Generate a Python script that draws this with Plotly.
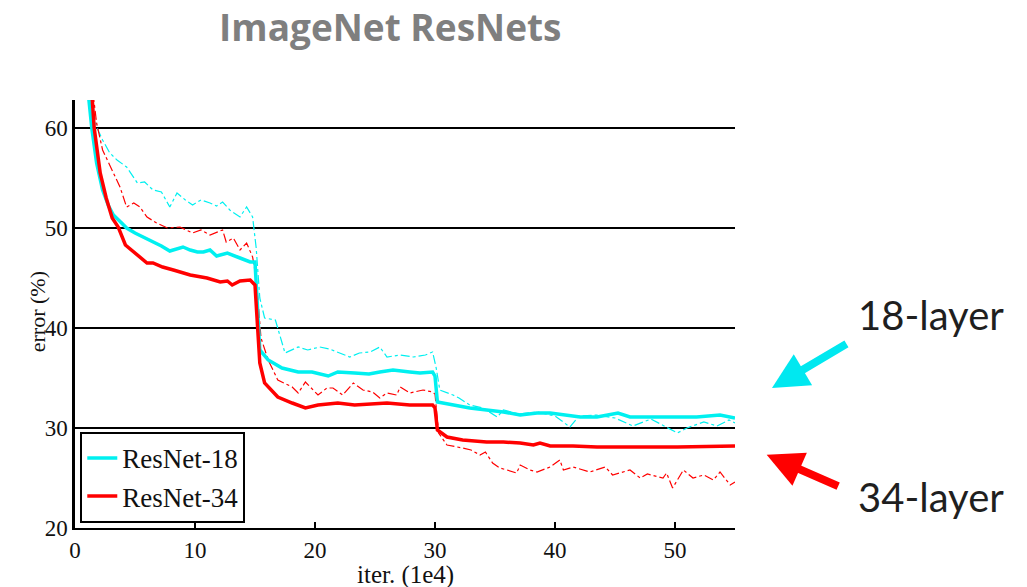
import plotly.graph_objects as go

# ---- data ----
r18_val_x = [1.1, 1.4, 1.8, 2.3, 2.8, 3.2, 3.8, 4.3, 5.0, 5.7, 6.5, 7.2, 7.9, 8.5, 9.0, 9.6, 10.2, 10.7, 11.25, 11.8, 12.7, 13.75, 14.6, 15.0,
             15.1, 15.4, 16.1, 17.25, 18.6, 19.75, 21.1, 21.9, 23.3, 24.5, 25.4, 26.5, 27.9, 28.75, 29.8, 30.0,
             30.2, 31.5, 32.9, 34.3, 35.7, 37.1, 38.5, 39.6, 40.7, 42.1, 43.5, 45.25, 46.25, 49.0, 51.8, 53.75, 55.0]
r18_val_y = [63.5, 60.0, 56.5, 53.8, 52.2, 51.3, 50.6, 50.0, 49.5, 49.1, 48.6, 48.2, 47.7, 47.9, 48.1, 47.8, 47.6, 47.6, 47.8, 47.2, 47.5, 47.0, 46.6, 46.6,
             44.0, 37.8, 36.8, 36.0, 35.6, 35.6, 35.2, 35.6, 35.5, 35.4, 35.6, 35.8, 35.6, 35.5, 35.6, 35.2,
             32.6, 32.3, 32.0, 31.8, 31.6, 31.3, 31.5, 31.5, 31.3, 31.1, 31.1, 31.5, 31.1, 31.1, 31.1, 31.3, 31.0]

r34_val_x = [1.4, 1.6, 2.1, 2.6, 3.1, 3.6, 4.2, 5.0, 6.0, 6.5, 7.3, 8.2, 9.6, 11.0, 12.1, 12.7, 13.1, 13.75, 14.6, 15.0,
             15.2, 15.4, 15.8, 16.9, 18.1, 19.2, 20.25, 21.9, 23.3, 24.5, 26.0, 27.9, 29.8, 30.0,
             30.2, 31.0, 32.3, 34.3, 35.7, 37.1, 38.2, 38.75, 39.6, 41.5, 43.5, 46.25, 50.2, 55.0]
r34_val_y = [63.5, 60.0, 55.5, 53.0, 51.0, 50.1, 48.3, 47.5, 46.5, 46.5, 46.1, 45.8, 45.3, 45.0, 44.6, 44.7, 44.3, 44.7, 44.8, 44.3,
             41.0, 36.5, 34.5, 33.1, 32.5, 32.0, 32.3, 32.5, 32.3, 32.4, 32.5, 32.3, 32.3, 32.0,
             29.8, 29.1, 28.8, 28.6, 28.6, 28.5, 28.3, 28.5, 28.2, 28.2, 28.1, 28.1, 28.1, 28.2]

r18_train_x = [1.2, 1.8, 2.3, 2.9, 3.5, 4.3, 5.2, 5.8, 6.5, 7.2, 7.9, 8.5, 9.2, 9.8, 10.5, 11.25, 11.8, 12.3, 12.9, 13.75, 14.3, 14.8,
               15.1, 15.4, 15.8, 16.7, 17.5, 18.6, 19.4, 20.4, 21.2, 22.1, 22.9, 23.7, 24.6, 25.4, 26.0, 27.1, 28.2, 29.2, 29.8,
               30.1, 30.4, 31.5, 32.0, 32.9, 34.0, 35.2, 35.7, 37.0, 38.5, 40.0, 41.25, 42.0, 43.5, 45.0, 46.5, 48.0, 49.0, 50.2,
               51.0, 52.4, 53.5, 54.5, 55.0]
r18_train_y = [63.5, 60.1, 58.8, 57.5, 56.8, 56.1, 54.5, 54.6, 53.8, 53.6, 52.1, 53.5, 52.8, 52.3, 52.8, 52.5, 52.2, 52.6, 51.8, 51.1, 52.1, 51.1,
               48.0, 43.0, 41.0, 40.8, 37.5, 38.1, 37.8, 38.1, 37.9, 37.5, 37.1, 37.5, 37.6, 38.1, 37.1, 37.3, 37.1, 37.3, 37.6,
               36.0, 33.8, 33.3, 33.0, 32.3, 32.0, 31.1, 31.8, 31.4, 31.6, 31.2, 30.1, 31.2, 31.3, 31.0, 30.2, 30.9, 30.3, 29.5,
               30.0, 30.6, 30.2, 30.8, 30.5]

r34_train_x = [1.5, 1.8, 2.3, 2.8, 3.2, 3.75, 4.3, 4.9, 5.4, 6.0, 6.8, 7.7, 8.75, 9.8, 10.5, 11.25, 12.3, 12.6, 13.2, 13.75, 14.3, 14.8,
               15.1, 15.5, 16.1, 16.9, 18.1, 18.6, 19.2, 19.8, 20.25, 21.0, 21.5, 22.3, 23.2, 24.0, 24.8, 25.4, 26.0, 26.8, 27.1,
               27.9, 29.0, 29.8, 30.0, 30.3, 31.0, 32.3, 33.0, 33.75, 34.2, 34.8, 35.4, 36.0, 36.8, 37.1, 37.9, 38.5, 39.6, 40.4,
               40.7, 41.5, 42.9, 44.2, 44.8, 46.25, 47.1, 47.7, 49.0, 49.3, 49.8, 50.7, 51.5, 52.4, 53.2, 53.75, 54.6, 55.0]
r34_train_y = [63.5, 60.5, 57.8, 56.5, 55.5, 54.1, 52.1, 52.5, 52.1, 51.1, 50.5, 50.0, 50.1, 49.5, 49.8, 49.3, 49.8, 48.6, 49.0, 47.8, 48.5, 47.1,
               45.0, 39.0, 36.8, 34.8, 34.1, 33.5, 34.6, 33.8, 33.3, 34.0, 34.0, 33.3, 34.5, 33.8, 33.6, 33.0, 33.5, 33.3, 34.1,
               33.5, 33.8, 33.6, 33.4, 29.5, 28.3, 28.0, 27.8, 27.3, 27.6, 26.5, 26.0, 25.8, 25.5, 26.3, 25.8, 25.6, 26.1, 26.8,
               25.8, 26.1, 25.6, 26.1, 25.3, 25.8, 25.0, 25.4, 25.0, 25.5, 24.0, 25.8, 25.0, 25.3, 24.8, 25.6, 24.3, 24.6]

x_ticks = [0, 10, 20, 30, 40, 50]
y_ticks = [20, 30, 40, 50, 60]
series_names = ["ResNet-18", "ResNet-34"]
CYAN = "#00F0F0"
RED = "#FF0000"

fig = go.Figure()
fig.add_trace(go.Scatter(x=r18_train_x, y=r18_train_y, mode="lines", showlegend=False,
                         line=dict(color=CYAN, width=1.2, dash="dashdot")))
fig.add_trace(go.Scatter(x=r34_train_x, y=r34_train_y, mode="lines", showlegend=False,
                         line=dict(color=RED, width=1.2, dash="dashdot")))
fig.add_trace(go.Scatter(x=r18_val_x, y=r18_val_y, mode="lines", name=series_names[0],
                         line=dict(color=CYAN, width=3.5)))
fig.add_trace(go.Scatter(x=r34_val_x, y=r34_val_y, mode="lines", name=series_names[1],
                         line=dict(color=RED, width=3.5)))

serif = "Liberation Serif"
fig.update_layout(
    width=1027, height=587,
    margin=dict(l=75, r=292, t=100, b=59, autoexpand=False),
    paper_bgcolor="white", plot_bgcolor="white",
    title=dict(text="<b>ImageNet ResNets</b>", x=0.38, xanchor="center", xref="container",
               y=0.952, yanchor="middle", yref="container",
               font=dict(family="Open Sans", size=37, color="#7f7f7f")),
    xaxis=dict(range=[0, 55], tickvals=x_ticks, showgrid=False, zeroline=False,
               showline=True, linecolor="black", linewidth=2, automargin=False,
               ticks="inside", ticklen=6, tickwidth=1.5, tickcolor="black",
               tickfont=dict(family=serif, size=23, color="#111")),
    yaxis=dict(range=[20, 62.8], tickvals=y_ticks, showgrid=True, gridcolor="black", gridwidth=2,
               zeroline=False, showline=True, linecolor="black", linewidth=2.5, automargin=False,
               ticks="inside", ticklen=6, tickwidth=1.5, tickcolor="black",
               tickfont=dict(family=serif, size=23, color="#111")),
    legend=dict(x=0.008, y=0.012, xanchor="left", yanchor="bottom",
                bgcolor="white", bordercolor="black", borderwidth=2,
                font=dict(family=serif, size=27, color="#111"), tracegroupgap=0),
    showlegend=True,
)

# axis titles as text annotations (placed in paper coordinates)
fig.add_annotation(x=0.5, y=-0.11, xref="paper", yref="paper", text="iter. (1e4)", showarrow=False,
                   xanchor="center", yanchor="middle", font=dict(family=serif, size=25, color="#111"))
fig.add_annotation(x=-0.057, y=0.505, xref="paper", yref="paper", text="error (%)", showarrow=False,
                   textangle=-90, xanchor="center", yanchor="middle",
                   font=dict(family=serif, size=22, color="#111"))

# arrows and side labels
fig.add_annotation(x=1.056, y=0.327, xref="paper", yref="paper", ax=76, ay=-45,
                   text="", showarrow=True, arrowhead=2, arrowsize=0.9, arrowwidth=8, arrowcolor="#00E8F0")
fig.add_annotation(x=1.048, y=0.171, xref="paper", yref="paper", ax=73, ay=32,
                   text="", showarrow=True, arrowhead=2, arrowsize=0.9, arrowwidth=8, arrowcolor="#FF0000")
fig.add_annotation(x=1.297, y=0.498, xref="paper", yref="paper", text="18-layer", showarrow=False,
                   xanchor="center", yanchor="middle", font=dict(family="Lato", size=40, color="#1f1f1f"))
fig.add_annotation(x=1.297, y=0.072, xref="paper", yref="paper", text="34-layer", showarrow=False,
                   xanchor="center", yanchor="middle", font=dict(family="Lato", size=40, color="#1f1f1f"))

fig.write_html("out.html", config={"displayModeBar": False},
               post_script="document.body.style.margin='0';document.body.style.padding='0';")
